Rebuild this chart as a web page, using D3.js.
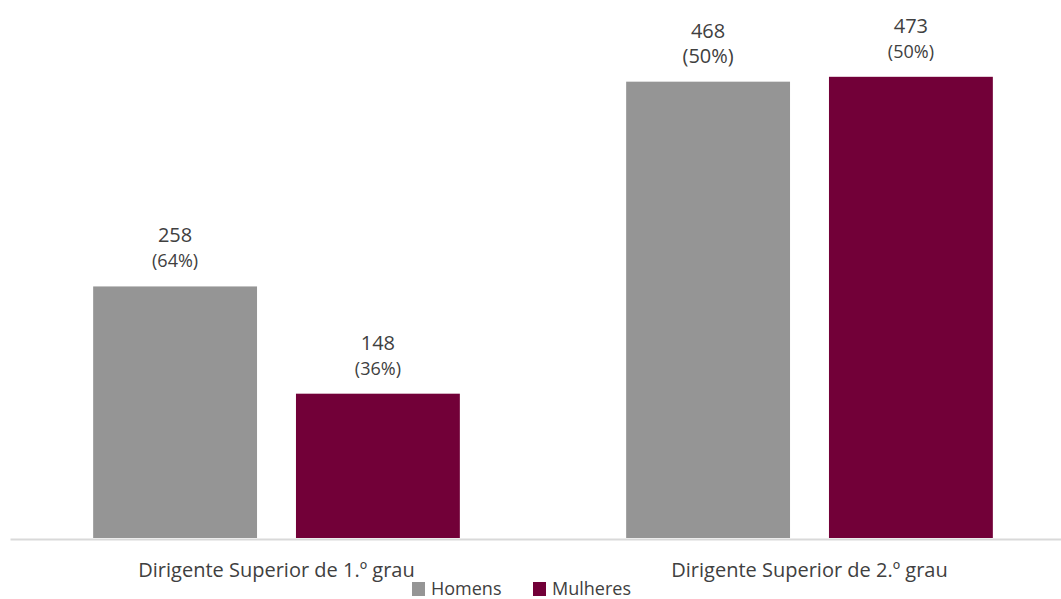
<!DOCTYPE html>
<html>
<head>
<meta charset="utf-8">
<script src="https://cdn.jsdelivr.net/npm/d3@7"></script>
<style>
  html, body { margin: 0; padding: 0; background: #ffffff; }
  svg { display: block; font-family: "Open Sans", "Noto Sans", sans-serif; }
</style>
</head>
<body>
<svg id="chart" width="1061" height="599"></svg>
<script>
const categories = ["Dirigente Superior de 1.º grau", "Dirigente Superior de 2.º grau"];
const seriesNames = ["Homens", "Mulheres"];
const homens = [258, 468];
const mulheres = [148, 473];
const homensPct = ["(64%)", "(50%)"];
const mulheresPct = ["(36%)", "(50%)"];

const colors = { Homens: "#959595", Mulheres: "#720038" };
const textColor = "#404040";
const font = '"Open Sans", "Noto Sans", sans-serif';

const svg = d3.select("#chart");
const baseline = 538;

const x0 = d3.scaleBand().domain(categories).range([10, 1076]).paddingInner(0).paddingOuter(0);
const x1 = d3.scaleBand().domain(seriesNames).range([0, x0.bandwidth()]).paddingInner(0.192).paddingOuter(0.41);
const y = d3.scaleLinear().domain([0, 473]).range([baseline, 76.8]);

const data = [];
categories.forEach((c, i) => {
  data.push({ cat: c, series: "Homens", value: homens[i], pct: homensPct[i], pctSize: i === 1 ? 20 : 18 });
  data.push({ cat: c, series: "Mulheres", value: mulheres[i], pct: mulheresPct[i], pctSize: 18 });
});

svg.append("g").selectAll("rect").data(data).join("rect")
  .attr("x", d => x0(d.cat) + x1(d.series))
  .attr("y", d => y(d.value))
  .attr("width", x1.bandwidth())
  .attr("height", d => baseline - y(d.value))
  .attr("fill", d => colors[d.series]);

// axis
const axis = svg.append("g").attr("transform", `translate(0,${baseline + 1})`)
  .call(d3.axisBottom(x0).tickSize(0).tickPadding(0));
axis.attr("font-family", font);
axis.select(".domain").attr("stroke", "#d9d9d9").attr("stroke-width", 2);
axis.selectAll(".tick text").remove();
axis.selectAll(".tick").append("text")
  .attr("y", 38)
  .attr("text-anchor", "middle")
  .attr("fill", textColor)
  .style("font-family", font)
  .style("font-size", "20px")
  .text(d => d);

// labels
const lab = svg.append("g").selectAll("g").data(data).join("g")
  .attr("transform", d => `translate(${x0(d.cat) + x1(d.series) + x1.bandwidth() / 2},${y(d.value)})`);
lab.append("text")
  .attr("y", -44)
  .attr("text-anchor", "middle")
  .attr("fill", textColor)
  .style("font-size", "20px")
  .text(d => d.value);
lab.append("text")
  .attr("y", -19)
  .attr("text-anchor", "middle")
  .attr("fill", textColor)
  .style("font-size", d => d.pctSize + "px")
  .text(d => d.pct);

// legend
const legend = svg.append("g");
const legX = [412, 533];
seriesNames.forEach((s, i) => {
  const g = legend.append("g").attr("transform", `translate(${legX[i]},582)`);
  g.append("rect").attr("width", 13).attr("height", 14).attr("fill", colors[s]);
  g.append("text").attr("x", 19).attr("y", 13).attr("fill", textColor)
    .style("font-size", "18px").text(s);
});
</script>
</body>
</html>
